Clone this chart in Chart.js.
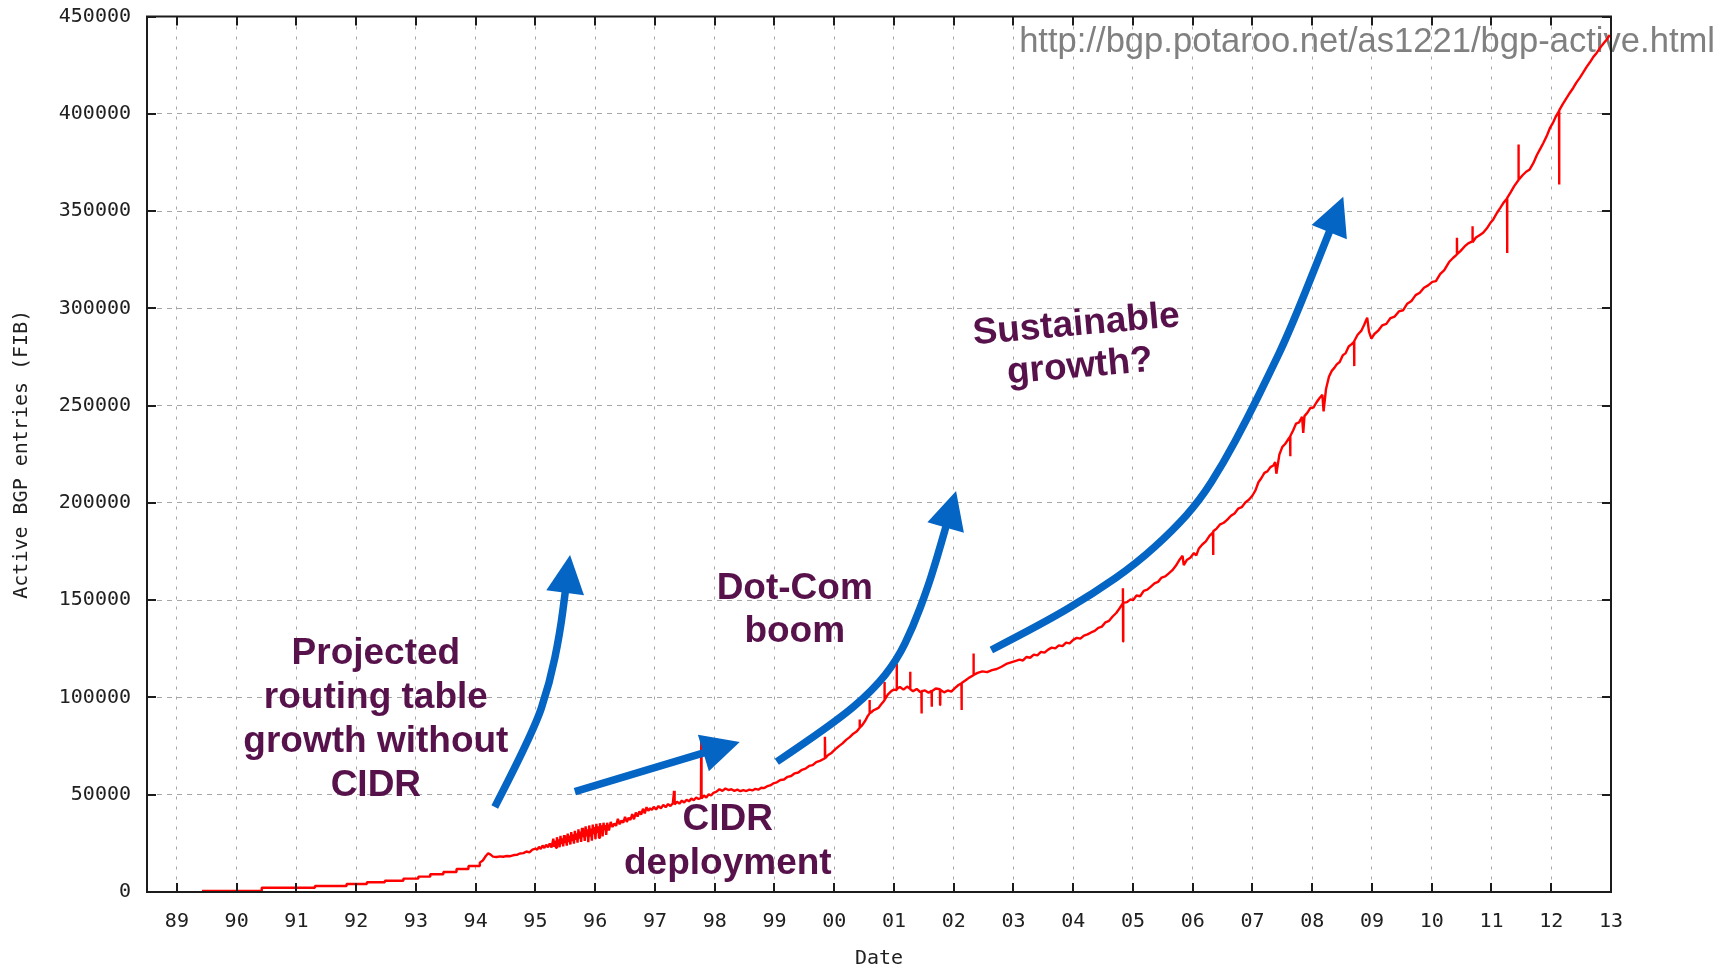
<!DOCTYPE html>
<html>
<head>
<meta charset="utf-8">
<title>Active BGP entries (FIB)</title>
<script src="https://cdn.jsdelivr.net/npm/chart.js"></script>
<style>
  html, body { margin: 0; padding: 0; background: #fff; }
  canvas { display: block; }
</style>
</head>
<body>
<canvas id="bgpChart" width="1731" height="969"></canvas>
<script>
// sample dates (decimal years) and active FIB entries, AS1221 view
let years = [
  1989.42, 1990.42, 1990.42, 1991.31, 1991.31, 1991.84, 1991.84, 1992.18, 1992.18, 1992.48,
  1992.48, 1992.79, 1992.79, 1993.04, 1993.04, 1993.24, 1993.24, 1993.46, 1993.46, 1993.68,
  1993.68, 1993.88, 1993.88, 1994.07, 1994.07,
  1994.12, 1994.17, 1994.21, 1994.25, 1994.29, 1994.35, 1994.41, 1994.46, 1994.52,
  1994.58, 1994.64, 1994.69, 1994.74, 1994.80, 1994.85, 1994.90, 1994.95, 1995.00,
  1995.03, 1995.06, 1995.09, 1995.12, 1995.15, 1995.18, 1995.21, 1995.24, 1995.27,
  1995.300, 1995.315, 1995.330, 1995.345, 1995.360, 1995.375, 1995.390, 1995.405, 1995.420, 1995.435,
  1995.450, 1995.465, 1995.480, 1995.495, 1995.510, 1995.525, 1995.540, 1995.555, 1995.570, 1995.585,
  1995.600, 1995.615, 1995.630, 1995.645, 1995.660, 1995.675, 1995.690, 1995.705, 1995.720, 1995.735,
  1995.750, 1995.765, 1995.780, 1995.795, 1995.810, 1995.825, 1995.840, 1995.855, 1995.870, 1995.885,
  1995.900, 1995.915, 1995.930, 1995.945, 1995.960, 1995.975, 1995.990, 1996.005, 1996.020, 1996.035,
  1996.050, 1996.065, 1996.080, 1996.095, 1996.110, 1996.125, 1996.140, 1996.155, 1996.170, 1996.185,
  1996.200,
  1996.23, 1996.26, 1996.29, 1996.32, 1996.35, 1996.38, 1996.41, 1996.44, 1996.47, 1996.50,
  1996.53, 1996.56, 1996.59, 1996.62, 1996.65, 1996.68, 1996.71, 1996.74, 1996.77, 1996.80,
  1996.83, 1996.86, 1996.89, 1996.92, 1996.95, 1996.98,
  1997.02, 1997.06, 1997.10, 1997.14, 1997.18, 1997.22, 1997.26, 1997.30, 1997.32, 1997.33,
  1997.37, 1997.41, 1997.45, 1997.49, 1997.53, 1997.57, 1997.61, 1997.65, 1997.69, 1997.73,
  1997.77, 1997.775, 1997.78, 1997.82, 1997.86, 1997.90, 1997.94, 1997.98,
  1998.03, 1998.08, 1998.13, 1998.18, 1998.23, 1998.28, 1998.33, 1998.38, 1998.43, 1998.48,
  1998.53, 1998.58, 1998.63, 1998.68, 1998.73, 1998.78, 1998.83, 1998.88, 1998.93, 1998.98,
  1999.04, 1999.10, 1999.16, 1999.22, 1999.28, 1999.34, 1999.40, 1999.46, 1999.52, 1999.58,
  1999.64, 1999.70, 1999.76, 1999.84, 1999.845, 1999.85, 1999.90, 1999.96, 2000.02, 2000.08,
  2000.14, 2000.20, 2000.26, 2000.32, 2000.38, 2000.42, 2000.425, 2000.43, 2000.47, 2000.52,
  2000.56, 2000.59, 2000.592, 2000.595, 2000.62, 2000.66, 2000.70, 2000.74, 2000.78, 2000.84,
  2000.842, 2000.845, 2000.90, 2000.96,
  2001.00, 2001.04, 2001.045, 2001.05, 2001.10, 2001.16, 2001.22, 2001.27, 2001.272, 2001.275,
  2001.32, 2001.38, 2001.44, 2001.46, 2001.462, 2001.465, 2001.52, 2001.58, 2001.63, 2001.632,
  2001.635, 2001.70, 2001.77, 2001.772, 2001.775, 2001.84, 2001.90, 2001.96, 2002.02, 2002.08,
  2002.13, 2002.132, 2002.135, 2002.20, 2002.26, 2002.33, 2002.332, 2002.335, 2002.40, 2002.48,
  2002.56, 2002.64, 2002.72, 2002.80, 2002.88, 2002.96,
  2003.04, 2003.10, 2003.16, 2003.22, 2003.28, 2003.34, 2003.40, 2003.46, 2003.52, 2003.58,
  2003.64, 2003.70, 2003.76, 2003.82, 2003.88, 2003.94, 2004.00, 2004.06, 2004.12, 2004.18,
  2004.24, 2004.30, 2004.36, 2004.42, 2004.48, 2004.54, 2004.60, 2004.66, 2004.72, 2004.78,
  2004.83, 2004.832, 2004.835, 2004.838, 2004.90, 2004.96, 2005.00,
  2005.06, 2005.12, 2005.18, 2005.24, 2005.30, 2005.36, 2005.42, 2005.48, 2005.54, 2005.60,
  2005.66, 2005.72, 2005.78, 2005.83, 2005.85, 2005.90, 2005.96, 2006.02, 2006.06, 2006.10,
  2006.16, 2006.22, 2006.28, 2006.34, 2006.342, 2006.345, 2006.40, 2006.46, 2006.52, 2006.58,
  2006.64, 2006.70, 2006.76, 2006.82, 2006.88, 2006.94, 2007.00,
  2007.05, 2007.10, 2007.15, 2007.20, 2007.25, 2007.30, 2007.35, 2007.38, 2007.40, 2007.45,
  2007.50, 2007.55, 2007.60, 2007.63, 2007.632, 2007.635, 2007.68, 2007.73, 2007.78, 2007.83,
  2007.85, 2007.87, 2007.92, 2007.97, 2008.02, 2008.07, 2008.12, 2008.17, 2008.19, 2008.23,
  2008.28, 2008.33, 2008.37, 2008.41, 2008.46, 2008.51, 2008.56, 2008.61, 2008.66, 2008.70,
  2008.702, 2008.705, 2008.76, 2008.82, 2008.87, 2008.90, 2008.92, 2008.95, 2008.99, 2009.04,
  2009.10, 2009.17, 2009.24, 2009.31, 2009.38, 2009.45, 2009.52, 2009.59, 2009.66, 2009.73,
  2009.80, 2009.87, 2009.94, 2010.01, 2010.07, 2010.14, 2010.21, 2010.29, 2010.36, 2010.42,
  2010.422, 2010.425, 2010.48, 2010.55, 2010.61, 2010.68, 2010.682, 2010.685, 2010.74, 2010.80,
  2010.86, 2010.92, 2010.98, 2011.03, 2011.09, 2011.15, 2011.20, 2011.26, 2011.262, 2011.265,
  2011.32, 2011.38, 2011.45, 2011.452, 2011.455, 2011.52, 2011.58, 2011.64, 2011.70, 2011.76,
  2011.82, 2011.87, 2011.93, 2011.98, 2012.03, 2012.08, 2012.13, 2012.132, 2012.135, 2012.19,
  2012.25, 2012.31, 2012.37, 2012.42, 2012.48, 2012.53, 2012.59, 2012.65, 2012.70, 2012.76,
  2012.82, 2012.88, 2012.93, 2012.98
];

let entries = [
  500, 500, 2200, 2200, 3100, 3100, 4100, 4100, 5000, 5000,
  5800, 5800, 6850, 6850, 7900, 7900, 9100, 9100, 10300, 10300,
  11800, 11800, 13400, 13400, 15100,
  16200, 18500, 19900, 19200, 18200, 18000, 18300, 18100, 18500,
  18400, 19000, 19100, 19800, 20000, 20800, 20400, 21800, 22300,
  21800, 23200, 22100, 23900, 22600, 24300, 23000, 24900, 22900,
  27400, 23200, 26400, 22700, 28200, 24000, 27000, 23000, 28800, 24600,
  27600, 23400, 29200, 25200, 28000, 23800, 30000, 25600, 29000, 24400,
  30800, 26200, 29600, 24800, 31400, 26800, 30200, 25400, 32200, 27400,
  31000, 25800, 33000, 28200, 31800, 26200, 33800, 28600, 32200, 25600,
  34200, 29000, 32600, 26400, 34600, 29800, 33400, 27200, 35000, 30400,
  33800, 27800, 35400, 31200, 34200, 28600, 35600, 31800, 34400, 29400,
  35600,
  31600, 36000, 33400, 35200, 34000, 37600, 34800, 36800, 35600, 38600,
  36000, 38200, 37000, 40000, 37400, 40800, 38800, 41400, 39800, 42800,
  40400, 43600, 41800, 43000, 42200, 43800,
  42400, 44200, 43000, 44800, 43600, 45200, 44200, 45600, 52000, 45000,
  46400, 45400, 47000, 46000, 47400, 46600, 48000, 47200, 48600, 47800,
  48400, 78000, 48000, 49600, 48600, 50200, 49600, 51000,
  51600, 52800, 52000, 53200, 52400, 52800, 52000, 52600, 51800, 52400,
  51900, 52600, 52200, 53000, 52600, 53600, 53400, 54400, 54800, 55800,
  56400, 57600, 57800, 59200, 59600, 61000, 61400, 62800, 63400, 64800,
  65200, 66800, 67400, 68600, 79800, 68800, 70400, 71600, 73400, 75000,
  76400, 78200, 79600, 81400, 82600, 84200, 88600, 84400, 85800, 88000,
  90400, 91600, 98700, 91800, 92400, 93400, 94000, 94600, 96200, 98400,
  108000, 98800, 101600, 103400,
  104000, 103800, 117500, 104400, 105400, 104000, 105600, 104400, 113200, 104200,
  103200, 104400, 102800, 103000, 91800, 103200, 103600, 102400, 103400, 95200,
  103200, 104600, 104200, 96100, 104000, 102600, 103600, 103000, 104800, 106400,
  107200, 93500, 107400, 108800, 110200, 111400, 122600, 111600, 112600, 113400,
  113000, 114000, 114600, 115800, 117200, 118000,
  118800, 119400, 119000, 120800, 120400, 122000, 121600, 123400, 123000, 124600,
  125600, 125200, 126800, 126400, 128200, 127800, 129600, 130600, 130200, 131800,
  132400, 133400, 134200, 135800, 136400, 138600, 139400, 141600, 143400, 146000,
  148400, 156100, 128700, 148600, 149000, 150400, 150000,
  152400, 152000, 154800, 155400, 157000, 158600, 159400, 161600, 162200, 163800,
  165400, 167800, 170800, 172800, 168000, 170600, 171800, 174200, 173000, 176400,
  178600, 180200, 183000, 184800, 173200, 185400, 186800, 189000, 189800, 191400,
  193400, 194600, 197000, 197800, 200200, 201600, 203800,
  206400, 210600, 212800, 215400, 216200, 218400, 219200, 221000, 215000, 224800,
  228800, 230400, 232800, 234000, 224000, 234400, 237200, 240800, 241400, 244200,
  236000, 244600, 246400, 248800, 249000, 251600, 253800, 255600, 247000, 258400,
  264800, 268000, 269400, 271200, 272400, 275800, 277000, 280400, 281600, 282800,
  270300, 283200, 286400, 288400, 291600, 293800, 295200, 288000, 284400, 286800,
  288400, 291200, 292000, 295000, 295800, 298400, 299000, 302400, 303800, 306800,
  308000, 310600, 311800, 313600, 314000, 317600, 319600, 323800, 326000, 327600,
  336300, 327800, 329400, 331800, 333400, 334400, 342200, 334000, 336400, 337600,
  338800, 341000, 343800, 345700, 349000, 351800, 354200, 356400, 328500, 356800,
  359600, 362800, 365800, 384200, 366000, 368400, 370200, 371400, 374600, 378800,
  382200, 385100, 389000, 392800, 395400, 398800, 401400, 363600, 401800, 404800,
  407800, 410700, 413400, 416000, 418600, 421000, 424000, 426600, 429000, 431300,
  434000, 436400, 438200, 440500
];

let yearTicks  = [1989, 1990, 1991, 1992, 1993, 1994, 1995, 1996, 1997, 1998, 1999, 2000, 2001,
                  2002, 2003, 2004, 2005, 2006, 2007, 2008, 2009, 2010, 2011, 2012, 2013];
let yearLabels = ["89", "90", "91", "92", "93", "94", "95", "96", "97", "98", "99", "00", "01",
                  "02", "03", "04", "05", "06", "07", "08", "09", "10", "11", "12", "13"];
let entryTicks = [0, 50000, 100000, 150000, 200000, 250000, 300000, 350000, 400000, 450000];

// arrows, in (year, entries); last point is the arrow tip
let arrows = [
  [[1994.32, 43700], [1994.96, 81700], [1995.24, 107400], [1995.41, 133100], [1995.58, 173200]],
  [[1995.66, 51600], [1998.42, 77100]],
  [[1999.04, 66950], [2000.0, 86700], [2000.65, 103800], [2001.05, 119200], [2001.32, 136300],
   [2001.55, 155200], [2001.71, 170600], [2002.04, 206100]],
  [[2002.63, 124400], [2003.5, 138100], [2004.34, 153500], [2005.06, 168900], [2005.67, 186000],
   [2006.12, 201400], [2006.51, 220300], [2006.9, 242600], [2007.26, 265000], [2007.63, 288800],
   [2008.52, 357300]]
];

let notes = [
  { lines: ["Projected", "routing table", "growth without", "CIDR"], at: [1992.33, 122300], gap: 44, angle: 0 },
  { lines: ["Dot-Com", "boom"], at: [1999.34, 155900], gap: 43, angle: 0 },
  { lines: ["CIDR", "deployment"], at: [1998.22, 37000], gap: 44, angle: 0 },
  { lines: ["Sustainable", "growth?"], at: [2004.05, 291400], gap: 42, angle: -5 }
];

let sourceUrl = "http://bgp.potaroo.net/as1221/bgp-active.html";

let toPx = (chart, p) => ({
  x: chart.scales.x.getPixelForValue(p[0]),
  y: chart.scales.y.getPixelForValue(p[1])
});

let urlPlugin = {
  id: 'urlText',
  beforeDatasetsDraw(chart) {
    let c = chart.ctx;
    c.save();
    c.font = '34.6px "Liberation Sans", Arial, sans-serif';
    c.fillStyle = '#808080';
    c.textAlign = 'right';
    c.textBaseline = 'alphabetic';
    c.fillText(sourceUrl, 1715, 52);
    c.restore();
  }
};

// gnuplot style border with inward tics on all four sides
let framePlugin = {
  id: 'frame',
  afterDatasetsDraw(chart) {
    let { ctx: c, chartArea: a, scales: { x, y } } = chart;
    c.save();
    c.strokeStyle = '#1c1c1c';
    c.lineWidth = 2;
    c.strokeRect(a.left, a.top, a.right - a.left, a.bottom - a.top);
    c.beginPath();
    yearTicks.forEach(v => {
      let px = Math.round(x.getPixelForValue(v));
      c.moveTo(px, a.bottom); c.lineTo(px, a.bottom - 9);
      c.moveTo(px, a.top);    c.lineTo(px, a.top + 9);
    });
    entryTicks.forEach(v => {
      let py = Math.round(y.getPixelForValue(v));
      c.moveTo(a.left, py);  c.lineTo(a.left + 9, py);
      c.moveTo(a.right, py); c.lineTo(a.right - 9, py);
    });
    c.stroke();
    c.restore();
  }
};

let drawArrow = (c, pts) => {
  let tip = pts[pts.length - 1];
  let prev = pts[pts.length - 2];
  let dx = tip.x - prev.x, dy = tip.y - prev.y;
  let len = Math.hypot(dx, dy);
  let ux = dx / len, uy = dy / len;
  let headLen = 38, headHalf = 19;
  let base = { x: tip.x - ux * headLen, y: tip.y - uy * headLen };
  let shaft = pts.slice(0, -1).concat([{ x: base.x + ux * 3, y: base.y + uy * 3 }]);

  c.beginPath();
  c.moveTo(shaft[0].x, shaft[0].y);
  for (let i = 1; i < shaft.length - 1; i++) {
    let mx = (shaft[i].x + shaft[i + 1].x) / 2;
    let my = (shaft[i].y + shaft[i + 1].y) / 2;
    c.quadraticCurveTo(shaft[i].x, shaft[i].y, mx, my);
  }
  c.lineTo(shaft[shaft.length - 1].x, shaft[shaft.length - 1].y);
  c.stroke();

  c.beginPath();
  c.moveTo(tip.x, tip.y);
  c.lineTo(base.x - uy * headHalf, base.y + ux * headHalf);
  c.lineTo(base.x + uy * headHalf, base.y - ux * headHalf);
  c.closePath();
  c.fill();
};

let notesPlugin = {
  id: 'notes',
  afterDatasetsDraw(chart) {
    let c = chart.ctx;
    c.save();
    c.strokeStyle = '#0565c4';
    c.fillStyle = '#0565c4';
    c.lineWidth = 7.5;
    c.lineCap = 'butt';
    c.lineJoin = 'round';
    arrows.forEach(a => drawArrow(c, a.map(p => toPx(chart, p))));

    c.font = 'bold 37px "Liberation Sans", Arial, sans-serif';
    c.fillStyle = '#57124b';
    c.textAlign = 'center';
    c.textBaseline = 'middle';
    notes.forEach(n => {
      let p = toPx(chart, n.at);
      c.save();
      c.translate(p.x, p.y);
      c.rotate(n.angle * Math.PI / 180);
      n.lines.forEach((line, i) => c.fillText(line, 0, i * n.gap));
      c.restore();
    });
    c.restore();
  }
};

Chart.defaults.font.family = '"DejaVu Sans Mono", monospace';
Chart.defaults.color = '#202020';

let ctx = document.getElementById('bgpChart').getContext('2d');

let bgpChart = new Chart(ctx, {
  type: 'line',
  data: {
    datasets: [{
      data: years.map((d, i) => ({ x: d, y: entries[i] })),
      borderColor: '#ff0000',
      borderWidth: 2.4,
      borderJoinStyle: 'bevel',
      pointRadius: 0,
      tension: 0,
      fill: false
    }]
  },
  options: {
    responsive: false,
    animation: false,
    devicePixelRatio: 1,
    layout: { padding: { top: 16, right: 120, bottom: 0, left: 0 } },
    plugins: {
      legend: { display: false },
      tooltip: { enabled: false }
    },
    scales: {
      x: {
        type: 'linear',
        min: 1988.5,
        max: 2013,
        afterBuildTicks: scale => { scale.ticks = yearTicks.map(v => ({ value: v })); },
        afterFit: scale => { scale.height = 77; },
        ticks: {
          autoSkip: false,
          maxRotation: 0,
          padding: 18,
          font: { size: 20 },
          callback: (v, i) => yearLabels[i]
        },
        grid: { color: '#a6a6a6', lineWidth: 1, drawTicks: false },
        border: { display: false, dash: [3, 7] },
        title: {
          display: true,
          text: 'Date',
          font: { size: 20, lineHeight: 1 },
          padding: { top: 0, bottom: 0 }
        }
      },
      y: {
        type: 'linear',
        min: 0,
        max: 450000,
        afterBuildTicks: scale => { scale.ticks = entryTicks.map(v => ({ value: v })); },
        afterFit: scale => { scale.width = 147; },
        ticks: {
          padding: 16,
          font: { size: 20, lineHeight: 0.05 },
          callback: v => String(v)
        },
        grid: { color: '#a6a6a6', lineWidth: 1, drawTicks: false },
        border: { display: false, dash: [5, 5] },
        title: {
          display: true,
          text: 'Active BGP entries (FIB)',
          font: { size: 20, lineHeight: 1.2 },
          padding: { top: 10, bottom: 0 }
        }
      }
    }
  },
  plugins: [urlPlugin, framePlugin, notesPlugin]
});
</script>
</body>
</html>
